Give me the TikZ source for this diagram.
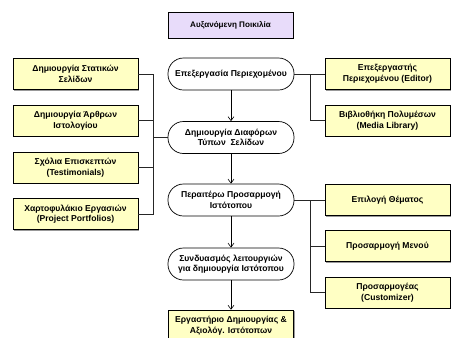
\documentclass[tikz,border=0pt]{standalone}
\usepackage{fontspec}
\setmainfont{Liberation Sans}
\usetikzlibrary{arrows.meta,shadows}
\definecolor{boxyellow}{RGB}{255,255,196}
\definecolor{boxpurple}{RGB}{232,220,250}
\tikzset{
  txt/.style={font=\bfseries\fontsize{8.6}{10.6}\selectfont, align=center, inner sep=0pt},
  ybox/.style={txt, rectangle, draw=black, line width=0.6pt, fill=boxyellow,
    minimum width=125pt, minimum height=31pt,
    drop shadow={shadow xshift=1pt, shadow yshift=-1pt, fill=gray!80, opacity=1}},
  pbox/.style={ybox, fill=boxpurple, minimum height=26pt, font=\bfseries\fontsize{8.1}{10}\selectfont},
  stad/.style={txt, rectangle, rounded corners=15.5pt, draw=black, line width=0.7pt, fill=white,
    minimum width=126pt, minimum height=32pt},
  conn/.style={line width=0.6pt, draw=black!85},
  flow/.style={line width=0.6pt, -{Straight Barb[length=4pt,width=6pt,line width=0.6pt]}}
}
\begin{document}
\begin{tikzpicture}[x=1pt,y=-1pt]
\useasboundingbox (0,0) rectangle (451,338);
\node[pbox] (top) at (230.5,25) {Αυξανόμενη Ποικιλία};
\node[stad] (s1) at (231,74) {Επεξεργασία Περιεχομένου};
\node[stad] (s2) at (231,137.5) {Δημιουργία Διαφόρων\\Τύπων\ \ Σελίδων};
\node[stad] (s3) at (231,200) {Περαιτέρω Προσαρμογή\\Ιστότοπου};
\node[stad] (s4) at (231,264) {Συνδυασμός λειτουργιών\\για δημιουργία Ιστότοπου};
\node[ybox] (bot) at (231,325.5) {Εργαστήριο Δημιουργίας \&\\Αξιολόγ. Ιστότοπων};

\node[ybox] (l1) at (75.5,74) {Δημιουργία Στατικών\\Σελίδων};
\node[ybox] (l2) at (75.5,120.5) {Δημιουργία Άρθρων\\Ιστολογίου};
\node[ybox] (l3) at (75.5,167.5) {Σχόλια Επισκεπτών\\(Testimonials)};
\node[ybox] (l4) at (75.5,214) {Χαρτοφυλάκιο Εργασιών\\(Project Portfolios)};

\node[ybox] (r1) at (387.5,74) {Επεξεργαστής\\Περιεχομένου (Editor)};
\node[ybox] (r2) at (387.5,120.5) {Βιβλιοθήκη Πολυμέσων\\(Media Library)};
\node[ybox] (r3) at (387.5,200) {Επιλογή Θέματος};
\node[ybox] (r4) at (387.5,246) {Προσαρμογή Μενού};
\node[ybox] (r5) at (387.5,292.5) {Προσαρμογέας\\(Customizer)};

\coordinate (jl) at (153,137.5);
\coordinate (jr1) at (310,74);
\coordinate (jr2) at (310,200);

\draw[conn] (l1.east) -| (jl);
\draw[conn] (l4.east) -| (jl);
\draw[conn] (l2.east) -- (l2.east -| jl);
\draw[conn] (l3.east) -- (l3.east -| jl);
\draw[conn] (jl) -- (s2.west);

\draw[conn] (s1.east) -- (r1.west);
\draw[conn] (jr1) |- (r2.west);
\draw[conn] (s3.east) -- (r3.west);
\draw[conn] (jr2) |- (r4.west);
\draw[conn] (jr2) |- (r5.west);

\draw[flow] (s1) -- (s2);
\draw[flow] (s2) -- (s3);
\draw[flow] (s3) -- (s4);
\draw[flow] (s4) -- (bot);
\end{tikzpicture}
\end{document}
